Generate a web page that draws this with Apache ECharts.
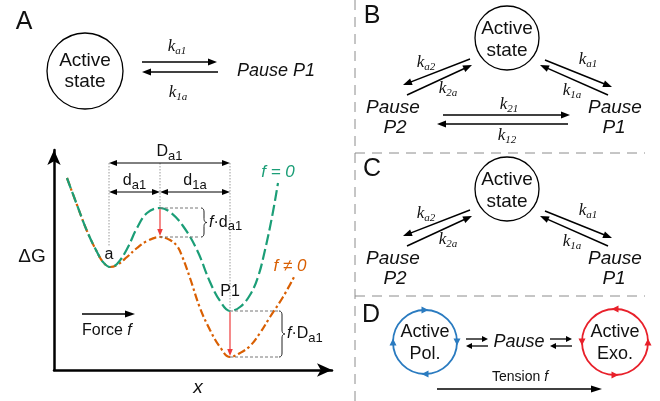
<!DOCTYPE html>
<html><head><meta charset="utf-8">
<script src="https://cdn.jsdelivr.net/npm/echarts@6/dist/echarts.min.js"></script>
<style>html,body{margin:0;padding:0;background:#fff}#c{width:660px;height:401px}</style>
</head><body><div id="c"></div>
<script>
// Energy landscape (reaction coordinate x vs free energy ΔG, arbitrary units)
const greenX = [13,23,33,43,49,56,63,73,83,93,106,116,129,143,156,166,176,186,196,204,211,218,224];
const greenG = [192,165,139,118,108,103,106,121,142,157,162,158,144,120,88,69,59,63,75,93,120,153,187];
const orangeX = [13,23,33,43,49,56,63,73,83,93,106,116,123,128,136,146,156,166,176,186,196,206,216,229,240];
const orangeG = [192,165,139,118,108,103,105,113,122,129,133,130,124,114,92,62,40,23,13,17,24,37,53,73,93];
// key states on the landscape
const xMinA = 55, xBarrier = 106, xP1 = 176;
const gBarrierF0 = 162, gBarrierF1 = 133, gP1F0 = 59, gP1F1 = 13;
const gDa1Level = 207, gdLevel = 178;
const seriesNames = ['f = 0', 'f ≠ 0'];

const GREEN = '#1b9e77', ORANGE = '#d95f02';
const SANS = 'Liberation Sans, Arial, sans-serif';
const SERIF = 'Liberation Serif, Times New Roman, serif';

const chart = echarts.init(document.getElementById('c'), null, {renderer: 'canvas'});
const axisCommon = {
  type: 'value', axisTick: {show: false}, axisLabel: {show: false}, splitLine: {show: false},
  axisLine: {show: true, onZero: false, lineStyle: {color: '#000', width: 2.5}, symbol: ['none', 'arrow'], symbolSize: [10, 15]}
};
chart.setOption({
  animation: false,
  grid: {left: 54, top: 150, width: 278, height: 220},
  xAxis: Object.assign({min: 0, max: 278}, axisCommon),
  yAxis: Object.assign({min: 0, max: 220}, axisCommon),
  series: [
    {name: seriesNames[1], type: 'line', smooth: 0.4, symbol: 'none', z: 2,
     data: orangeX.map((x, i) => [x, orangeG[i]]),
     lineStyle: {color: ORANGE, width: 2.2, type: [8, 3, 2.5, 3]}},
    {name: seriesNames[0], type: 'line', smooth: 0.4, symbol: 'none', z: 3,
     data: greenX.map((x, i) => [x, greenG[i]]),
     lineStyle: {color: GREEN, width: 2.2, type: [11, 4]}}
  ]
});

const P = (x, g) => chart.convertToPixel({gridIndex: 0}, [x, g]);
const els = [];
const cv = document.createElement('canvas').getContext('2d');
function W(s, size, fam, it) { cv.font = (it ? 'italic ' : '') + size + 'px ' + (fam || SANS); return cv.measureText(s).width; }
function T(x, y, s, size, o = {}) {
  els.push({type: 'text', x, y, z: 20, style: {text: s, fontSize: size, fontFamily: o.fam || SANS,
    fontStyle: o.it ? 'italic' : 'normal', fill: o.color || '#111', align: o.align || 'center', verticalAlign: 'middle'}});
}
function seq(x, y, parts, o = {}) {
  let w = 0; parts.forEach(p => { p.w = W(p.t, p.s, p.fam, p.it); w += p.w; });
  let cx = o.align === 'center' ? x - w / 2 : x;
  parts.forEach(p => { T(cx, y + (p.dy || 0), p.t, p.s, {fam: p.fam, it: p.it, align: 'left', color: o.color}); cx += p.w; });
}
function K(cx, cy, sub) { seq(cx, cy, [{t: 'k', s: 17, fam: SERIF, it: true}, {t: sub, s: 11, fam: SERIF, it: true, dy: 4}], {align: 'center'}); }
function L(x1, y1, x2, y2, o = {}) {
  els.push({type: 'line', z: o.z || 10, shape: {x1, y1, x2, y2}, style: {stroke: o.color || '#000', lineWidth: o.w || 1, lineDash: o.dash || null}});
}
function head(x, y, ux, uy, hl, hw, color) {
  const bx = x - ux * hl, by = y - uy * hl;
  els.push({type: 'polygon', z: 11, shape: {points: [[x, y], [bx - uy * hw, by + ux * hw], [bx + uy * hw, by - ux * hw]]}, style: {fill: color}});
}
function A(x1, y1, x2, y2, o = {}) {
  const color = o.color || '#000', hl = o.hl || 9, hw = o.hw || 3.5;
  const dx = x2 - x1, dy = y2 - y1, len = Math.hypot(dx, dy), ux = dx / len, uy = dy / len;
  const s = o.both ? hl * 0.8 : 0;
  L(x1 + ux * s, y1 + uy * s, x2 - ux * hl * 0.8, y2 - uy * hl * 0.8, {color, w: o.w || 1.5});
  head(x2, y2, ux, uy, hl, hw, color);
  if (o.both) head(x1, y1, -ux, -uy, hl, hw, color);
}
function Circ(cx, cy, r, o = {}) {
  els.push({type: 'circle', z: 5, shape: {cx, cy, r}, style: {fill: '#fff', stroke: o.color || '#000', lineWidth: o.w || 1.3}});
}
function quad(pts, a, c, b) {
  for (let i = 1; i <= 6; i++) { const t = i / 6, u = 1 - t;
    pts.push([u * u * a[0] + 2 * u * t * c[0] + t * t * b[0], u * u * a[1] + 2 * u * t * c[1] + t * t * b[1]]); }
}
function brace(x, y1, y2, w) {
  const xm = x + w / 2, ym = (y1 + y2) / 2, r = Math.min(4, (y2 - y1) / 4);
  const pts = [[x, y1]];
  quad(pts, [x, y1], [xm, y1], [xm, y1 + r]);
  pts.push([xm, ym - r]);
  quad(pts, [xm, ym - r], [xm, ym], [x + w, ym]);
  quad(pts, [x + w, ym], [xm, ym], [xm, ym + r]);
  pts.push([xm, y2 - r]);
  quad(pts, [xm, y2 - r], [xm, y2], [x, y2]);
  els.push({type: 'polyline', z: 10, shape: {points: pts}, style: {stroke: '#222', lineWidth: 1, fill: null}});
}

// ---------- dividers
const DIV = {dash: [10, 7], color: '#8c8c8c', w: 1};
L(355, 0, 355, 401, DIV); L(355, 153, 645, 153, DIV); L(355, 296, 645, 296, DIV);

// ---------- Panel A: scheme
T(24, 22, 'A', 25);
Circ(85, 71, 38);
T(85, 61, 'Active', 19); T(85, 82, 'state', 19);
A(142, 62, 217, 62); A(218, 72, 142, 72);
K(177, 47, 'a1'); K(178, 93, '1a');
T(276, 71, 'Pause P1', 18, {it: true});

// ---------- Panel A: energy landscape annotations
T(32, 257, 'ΔG', 19);
const GRAY = '#9a9a9a', DOT = [1.5, 1.5], DASH = [3, 2];
let p, q;
p = P(xMinA, gDa1Level); q = P(xMinA, 124); L(p[0], p[1], q[0], q[1], {color: GRAY, dash: DOT});
p = P(xBarrier, gDa1Level); q = P(xBarrier, gBarrierF0); L(p[0], p[1], q[0], q[1], {color: GRAY, dash: DOT});
p = P(xP1, gDa1Level); q = P(xP1, gP1F0); L(p[0], p[1], q[0], q[1], {color: GRAY, dash: DOT});
p = P(xMinA, gDa1Level); q = P(xP1, gDa1Level); A(p[0], p[1], q[0], q[1], {both: true, w: 1, hl: 8, hw: 3});
seq((p[0] + q[0]) / 2, p[1] - 11, [{t: 'D', s: 16}, {t: 'a1', s: 13, dy: 4}], {align: 'center'});
p = P(xMinA, gdLevel); q = P(xBarrier, gdLevel); A(p[0], p[1], q[0], q[1], {both: true, w: 1, hl: 8, hw: 3});
seq((p[0] + q[0]) / 2, p[1] - 11, [{t: 'd', s: 16}, {t: 'a1', s: 13, dy: 4}], {align: 'center'});
p = P(xBarrier, gdLevel); q = P(xP1, gdLevel); A(p[0], p[1], q[0], q[1], {both: true, w: 1, hl: 8, hw: 3});
seq((p[0] + q[0]) / 2, p[1] - 11, [{t: 'd', s: 16}, {t: '1a', s: 13, dy: 4}], {align: 'center'});
// barrier shift
p = P(xBarrier, gBarrierF0); q = P(146, gBarrierF0); L(p[0], p[1], q[0], q[1], {color: '#777', dash: DASH});
const pb = P(xBarrier, gBarrierF1); q = P(146, gBarrierF1); L(pb[0], pb[1], q[0], q[1], {color: '#777', dash: DASH});
A(p[0], p[1] + 1, pb[0], pb[1] - 1, {color: '#ee3b3b', w: 1.2, hl: 7, hw: 2.8});
brace(q[0] + 1, p[1], pb[1], 6);
seq(q[0] + 9, (p[1] + pb[1]) / 2, [{t: 'f', s: 16, it: true}, {t: '·d', s: 16}, {t: 'a1', s: 13, dy: 4}]);
// P1 shift
p = P(xP1, gP1F0); q = P(224, gP1F0); L(p[0], p[1], q[0], q[1], {color: '#777', dash: DASH});
const pp = P(xP1, gP1F1); q = P(224, gP1F1); L(pp[0], pp[1], q[0], q[1], {color: '#777', dash: DASH});
A(p[0], p[1] + 1, pp[0], pp[1] - 1, {color: '#ee3b3b', w: 1.2, hl: 7, hw: 2.8});
brace(q[0] + 1, p[1], pp[1], 6);
seq(q[0] + 9, (p[1] + pp[1]) / 2, [{t: 'f', s: 16, it: true}, {t: '·D', s: 16}, {t: 'a1', s: 13, dy: 4}]);
p = P(xMinA, 115); T(p[0], p[1], 'a', 16);
p = P(xP1, 78); T(p[0], p[1], 'P1', 16);
p = P(224, 198); T(p[0], p[1], seriesNames[0], 17, {it: true, color: GREEN});
p = P(236, 104); T(p[0], p[1], seriesNames[1], 17, {it: true, color: ORANGE});
A(82, 314, 135, 314, {w: 1.5, hl: 10, hw: 3.5});
seq(82, 331, [{t: 'Force ', s: 16}, {t: 'f', s: 16, it: true}]);
T(198, 388, 'x', 19, {it: true});

// ---------- Panels B and C
function triangle(oy, withLink) {
  Circ(507, 38 + oy, 32);
  T(507, 29 + oy, 'Active', 19); T(507, 51 + oy, 'state', 19);
  A(470, 59 + oy, 403, 85 + oy); A(407, 95 + oy, 472, 65 + oy);
  A(545, 60 + oy, 612, 87 + oy); A(608, 95 + oy, 540, 65 + oy);
  K(426, 63 + oy, 'a2'); K(448, 89 + oy, '2a'); K(588, 60 + oy, 'a1'); K(572, 91 + oy, '1a');
  T(393, 108 + oy, 'Pause', 19, {it: true}); T(395, 128 + oy, 'P2', 19, {it: true});
  T(615, 108 + oy, 'Pause', 19, {it: true}); T(614, 128 + oy, 'P1', 19, {it: true});
  if (withLink) {
    A(443, 115 + oy, 570, 115 + oy); A(568, 124 + oy, 437, 124 + oy);
    K(509, 105 + oy, '21'); K(507, 136 + oy, '12');
  }
}
T(372, 16, 'B', 25); triangle(0, true);
T(372, 169, 'C', 25); triangle(151, false);

// ---------- Panel D
T(371, 315, 'D', 25);
const BLUE = '#2a7bc0', RED = '#e8202a';
Circ(425, 342, 32, {color: BLUE, w: 1.8});
T(425, 332, 'Active', 18); T(425, 354, 'Pol.', 18);
Circ(615, 342, 33, {color: RED, w: 1.8});
T(615, 332, 'Active', 18); T(615, 354, 'Exo.', 18);
function cHead(x, y, ux, uy, color) { head(x + ux * 3.5, y + uy * 3.5, ux, uy, 7, 3.5, color); }
cHead(425, 310, 1, 0, BLUE); cHead(457, 342, 0, 1, BLUE); cHead(425, 374, -1, 0, BLUE); cHead(393, 342, 0, -1, BLUE);
cHead(615, 309, -1, 0, RED); cHead(582, 342, 0, 1, RED); cHead(615, 375, 1, 0, RED); cHead(648, 342, 0, -1, RED);
const EQ = {w: 1.3, hl: 6, hw: 3};
A(466, 339, 488, 339, EQ); A(488, 346, 466, 346, EQ);
A(550, 339, 572, 339, EQ); A(572, 346, 550, 346, EQ);
T(519, 342, 'Pause', 18, {it: true});
seq(520, 377, [{t: 'Tension ', s: 14}, {t: 'f', s: 14, it: true}], {align: 'center'});
A(437, 389, 602, 389, {w: 1.5, hl: 11, hw: 3.5});

chart.setOption({graphic: els});
</script></body></html>
